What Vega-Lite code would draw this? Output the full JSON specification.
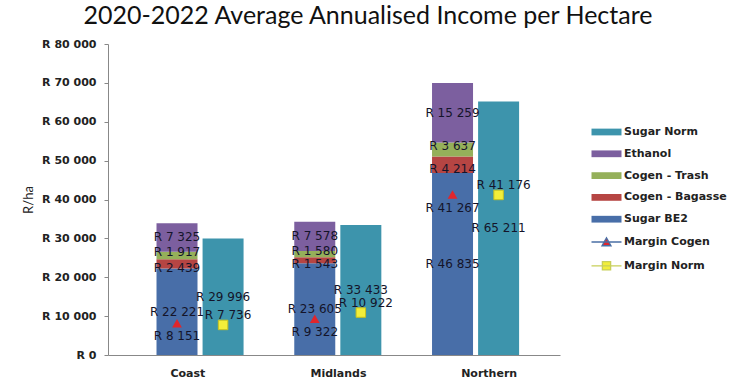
{
  "$schema": "https://vega.github.io/schema/vega-lite/v6.json",
  "width": 452,
  "height": 311,
  "autosize": {"type": "none"},
  "padding": {"left": 108, "top": 44, "right": 176, "bottom": 30},
  "background": "white",
  "title": {
    "text": "2020-2022 Average Annualised Income per Hectare",
    "font": "Lato",
    "fontSize": 25,
    "fontWeight": "normal",
    "color": "#111111",
    "anchor": "middle",
    "baseline": "alphabetic",
    "offset": 16,
    "dx": 34,
    "dy": 27
  },
  "data": {
    "values": [
      {"region": "Coast", "series": "Sugar BE2", "group": "Stack", "kind": "bar", "ord": 1, "value": 22221},
      {"region": "Coast", "series": "Cogen - Bagasse", "group": "Stack", "kind": "bar", "ord": 2, "value": 2439},
      {"region": "Coast", "series": "Cogen - Trash", "group": "Stack", "kind": "bar", "ord": 3, "value": 1917},
      {"region": "Coast", "series": "Ethanol", "group": "Stack", "kind": "bar", "ord": 4, "value": 7325},
      {"region": "Coast", "series": "Sugar Norm", "group": "Norm", "kind": "bar", "ord": 1, "value": 29996},
      {"region": "Coast", "series": "Margin Cogen", "group": "Stack", "kind": "cogen", "ord": 0, "value": 8151},
      {"region": "Coast", "series": "Margin Norm", "group": "Norm", "kind": "norm", "ord": 0, "value": 7736},
      {"region": "Midlands", "series": "Sugar BE2", "group": "Stack", "kind": "bar", "ord": 1, "value": 23605},
      {"region": "Midlands", "series": "Cogen - Bagasse", "group": "Stack", "kind": "bar", "ord": 2, "value": 1543},
      {"region": "Midlands", "series": "Cogen - Trash", "group": "Stack", "kind": "bar", "ord": 3, "value": 1580},
      {"region": "Midlands", "series": "Ethanol", "group": "Stack", "kind": "bar", "ord": 4, "value": 7578},
      {"region": "Midlands", "series": "Sugar Norm", "group": "Norm", "kind": "bar", "ord": 1, "value": 33433},
      {"region": "Midlands", "series": "Margin Cogen", "group": "Stack", "kind": "cogen", "ord": 0, "value": 9322},
      {"region": "Midlands", "series": "Margin Norm", "group": "Norm", "kind": "norm", "ord": 0, "value": 10922},
      {"region": "Northern", "series": "Sugar BE2", "group": "Stack", "kind": "bar", "ord": 1, "value": 46835},
      {"region": "Northern", "series": "Cogen - Bagasse", "group": "Stack", "kind": "bar", "ord": 2, "value": 4214},
      {"region": "Northern", "series": "Cogen - Trash", "group": "Stack", "kind": "bar", "ord": 3, "value": 3637},
      {"region": "Northern", "series": "Ethanol", "group": "Stack", "kind": "bar", "ord": 4, "value": 15259},
      {"region": "Northern", "series": "Sugar Norm", "group": "Norm", "kind": "bar", "ord": 1, "value": 65211},
      {"region": "Northern", "series": "Margin Cogen", "group": "Stack", "kind": "cogen", "ord": 0, "value": 41267},
      {"region": "Northern", "series": "Margin Norm", "group": "Norm", "kind": "norm", "ord": 0, "value": 41176}
    ]
  },
  "resolve": {"scale": {"x": "independent"}, "axis": {"x": "independent"}},
  "layer": [
    {
      "transform": [{"filter": "datum.kind === 'bar'"}],
      "mark": {"type": "text", "text": ""},
      "encoding": {
        "x": {
          "field": "region",
          "type": "nominal",
          "title": null,
          "axis": {"labelAngle": 0, "ticks": false, "labelPadding": 12, "labelOffset": 4, "domainColor": "#888888"}
        }
      }
    },
    {
      "encoding": {
        "x": {
          "field": "region",
          "type": "nominal",
          "axis": null,
          "scale": {"type": "band", "paddingInner": 0.368, "paddingOuter": 0.3245, "align": 0.5425, "round": false}
        },
        "xOffset": {
          "field": "group",
          "type": "nominal",
          "scale": {"domain": ["Stack", "Norm"], "paddingInner": 0.11, "paddingOuter": 0, "round": false}
        }
      },
      "layer": [
        {
          "transform": [{"filter": "datum.kind === 'bar'"}],
          "mark": {"type": "bar"},
          "encoding": {
            "y": {
              "field": "value",
              "type": "quantitative",
              "stack": "zero",
              "title": "R/ha",
              "scale": {"domain": [0, 80000], "nice": false}
            },
            "order": {"field": "ord", "type": "quantitative"},
            "color": {
              "field": "series",
              "type": "nominal",
              "scale": {
                "domain": ["Sugar Norm", "Ethanol", "Cogen - Trash", "Cogen - Bagasse", "Sugar BE2", "Margin Cogen", "Margin Norm"],
                "range": ["#3d94ac", "#7c5f9f", "#95b05a", "#b64543", "#486ea8", "#e0262c", "#f2ee3a"]
              },
              "legend": {
                "title": null,
                "orient": "none",
                "legendX": 493,
                "legendY": 82.5,
                "padding": 0,
                "symbolSize": 225,
                "rowPadding": 9.8,
                "labelOffset": 12,
                "labelFont": "DejaVu Sans",
                "labelFontWeight": "bold",
                "labelFontSize": 11,
                "labelColor": "#222222",
                "encode": {
                  "symbols": {
                    "update": {
                      "shape": {"signal": "datum.value === 'Margin Cogen' ? 'M-2,0H2M-0.6,0.5L0,-0.55L0.6,0.5Z' : datum.value === 'Margin Norm' ? 'M-2,0H2M-0.55,-0.55H0.55V0.55H-0.55Z' : 'M-2,-0.45H2V0.45H-2Z'"},
                      "stroke": {"signal": "datum.value === 'Margin Cogen' ? '#4a6fa5' : datum.value === 'Margin Norm' ? '#c8cf5a' : 'transparent'"},
                      "strokeWidth": {"signal": "datum.value === 'Margin Cogen' || datum.value === 'Margin Norm' ? 1.3 : 0"},
                      "opacity": {"value": 1}
                    }
                  }
                }
              }
            }
          }
        },
        {
          "transform": [
            {"filter": "datum.kind === 'bar'"},
            {"stack": "value", "groupby": ["region", "group"], "sort": [{"field": "ord", "order": "ascending"}], "as": ["y0", "y1"]},
            {"fold": ["y0", "y1"], "as": ["k", "pos"]},
            {"filter": "datum.series !== 'Cogen - Bagasse' && datum.series !== 'Cogen - Trash'"}
          ],
          "mark": {"type": "text", "font": "DejaVu Sans", "fontSize": 12, "color": "#14142a", "baseline": "middle", "align": "center"},
          "encoding": {
            "y": {"field": "pos", "aggregate": "mean", "type": "quantitative", "title": "R/ha", "scale": {"domain": [0, 80000], "nice": false}},
            "detail": {"field": "series", "type": "nominal"},
            "text": {"field": "value", "type": "quantitative", "format": "$,.0f"}
          }
        },
        {
          "transform": [
            {"filter": "datum.kind === 'bar'"},
            {"stack": "value", "groupby": ["region", "group"], "sort": [{"field": "ord", "order": "ascending"}], "as": ["y0", "y1"]},
            {"fold": ["y0", "y1"], "as": ["k", "pos"]},
            {"filter": "datum.series === 'Cogen - Bagasse'"}
          ],
          "mark": {"type": "text", "font": "DejaVu Sans", "fontSize": 12, "color": "#14142a", "baseline": "middle", "align": "center", "dy": 4},
          "encoding": {
            "y": {"field": "pos", "aggregate": "mean", "type": "quantitative", "title": "R/ha", "scale": {"domain": [0, 80000], "nice": false}},
            "detail": {"field": "series", "type": "nominal"},
            "text": {"field": "value", "type": "quantitative", "format": "$,.0f"}
          }
        },
        {
          "transform": [
            {"filter": "datum.kind === 'bar'"},
            {"stack": "value", "groupby": ["region", "group"], "sort": [{"field": "ord", "order": "ascending"}], "as": ["y0", "y1"]},
            {"fold": ["y0", "y1"], "as": ["k", "pos"]},
            {"filter": "datum.series === 'Cogen - Trash'"}
          ],
          "mark": {"type": "text", "font": "DejaVu Sans", "fontSize": 12, "color": "#14142a", "baseline": "middle", "align": "center", "dy": -3},
          "encoding": {
            "y": {"field": "pos", "aggregate": "mean", "type": "quantitative", "title": "R/ha", "scale": {"domain": [0, 80000], "nice": false}},
            "detail": {"field": "series", "type": "nominal"},
            "text": {"field": "value", "type": "quantitative", "format": "$,.0f"}
          }
        },
        {
          "transform": [{"filter": "datum.kind === 'cogen'"}],
          "mark": {"type": "point", "shape": "triangle-up", "filled": true, "size": 95, "opacity": 1},
          "encoding": {
            "y": {"field": "value", "type": "quantitative", "title": "R/ha", "scale": {"domain": [0, 80000], "nice": false}},
            "color": {"field": "series", "type": "nominal"}
          }
        },
        {
          "transform": [{"filter": "datum.kind === 'norm'"}],
          "mark": {"type": "point", "shape": "square", "filled": true, "size": 90, "opacity": 1, "stroke": "#c9c21e", "strokeWidth": 1},
          "encoding": {
            "y": {"field": "value", "type": "quantitative", "title": "R/ha", "scale": {"domain": [0, 80000], "nice": false}},
            "color": {"field": "series", "type": "nominal"}
          }
        },
        {
          "transform": [{"filter": "datum.kind === 'cogen'"}],
          "mark": {"type": "text", "font": "DejaVu Sans", "fontSize": 12, "color": "#14142a", "baseline": "middle", "align": "center", "dy": 13},
          "encoding": {
            "y": {"field": "value", "type": "quantitative", "title": "R/ha", "scale": {"domain": [0, 80000], "nice": false}},
            "text": {"field": "value", "type": "quantitative", "format": "$,.0f"}
          }
        },
        {
          "transform": [{"filter": "datum.kind === 'norm'"}],
          "mark": {"type": "text", "font": "DejaVu Sans", "fontSize": 12, "color": "#14142a", "baseline": "middle", "align": "center", "dy": -10, "dx": 5},
          "encoding": {
            "y": {"field": "value", "type": "quantitative", "title": "R/ha", "scale": {"domain": [0, 80000], "nice": false}},
            "text": {"field": "value", "type": "quantitative", "format": "$,.0f"}
          }
        }
      ]
    }
  ],
  "config": {
    "locale": {"number": {"decimal": ".", "thousands": " ", "grouping": [3], "currency": ["R ", ""]}},
    "view": {"stroke": null},
    "axis": {
      "grid": false,
      "domainColor": "#888888",
      "tickColor": "#888888",
      "labelFont": "DejaVu Sans",
      "labelFontWeight": "bold",
      "labelFontSize": 11,
      "labelColor": "#222222"
    },
    "axisY": {
      "tickSize": 4,
      "labelPadding": 8,
      "tickCount": 8,
      "format": "$,.0f",
      "titleFont": "Lato",
      "titleFontSize": 13,
      "titleFontWeight": "normal",
      "titleColor": "#222222",
      "titlePadding": 6
    }
  }
}
